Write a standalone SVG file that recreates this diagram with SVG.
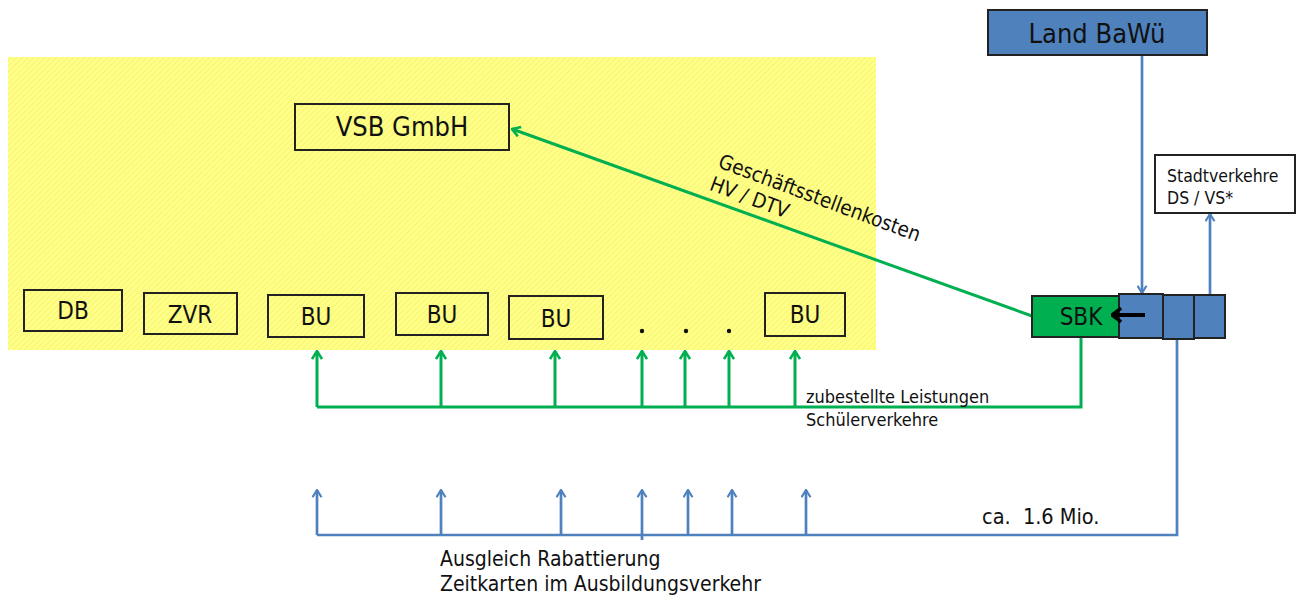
<svg xmlns="http://www.w3.org/2000/svg" width="1304" height="601" viewBox="0 0 1304 601">
<style>
text{font-family:"DejaVu Sans Condensed","DejaVu Sans",sans-serif;font-stretch:condensed;fill:#111}
.box{fill:none;stroke:#222;stroke-width:2}
.c{text-anchor:middle}
.g{fill:none;stroke:#00B050;stroke-width:3}
.b{fill:none;stroke:#4F81BD;stroke-width:2.7}
.blue{fill:#4F81BD;stroke:#222;stroke-width:2}
</style>
<defs>
<pattern id="hatch" width="4" height="4" patternUnits="userSpaceOnUse" patternTransform="rotate(45)">
<rect width="4" height="4" fill="#FFFF8C"/>
<rect width="1.2" height="4" fill="#F8F66E"/>
</pattern>
<marker id="ag" viewBox="0 0 10 12" refX="9" refY="6" markerWidth="10" markerHeight="12" markerUnits="userSpaceOnUse" orient="auto">
<path d="M1,1 L9,6 L1,11" fill="none" stroke="#00B050" stroke-width="2.6"/>
</marker>
<marker id="ab" viewBox="0 0 10 12" refX="9" refY="6" markerWidth="9" markerHeight="11" markerUnits="userSpaceOnUse" orient="auto">
<path d="M1,1 L9,6 L1,11" fill="none" stroke="#4F81BD" stroke-width="2.4"/>
</marker>
<marker id="ak" viewBox="0 0 10 14" refX="9" refY="7" markerWidth="12" markerHeight="16" markerUnits="userSpaceOnUse" orient="auto">
<path d="M1,1 L9,7 L1,13" fill="none" stroke="#000" stroke-width="3"/>
</marker>
</defs>
<rect id="area" x="8" y="57" width="868" height="293" fill="url(#hatch)"/>

<g id="connectors">
<path class="g" d="M1032,316 L512,129" marker-end="url(#ag)"/>
<path class="g" d="M1081,337 L1081,407 L317,407"/>
<path class="g" d="M317,407 V351" marker-end="url(#ag)"/>
<path class="g" d="M441,407 V351" marker-end="url(#ag)"/>
<path class="g" d="M555,407 V351" marker-end="url(#ag)"/>
<path class="g" d="M642,407 V351" marker-end="url(#ag)"/>
<path class="g" d="M685,407 V351" marker-end="url(#ag)"/>
<path class="g" d="M729,407 V351" marker-end="url(#ag)"/>
<path class="g" d="M795,407 V351" marker-end="url(#ag)"/>
<path class="b" d="M1177,339 L1177,535 L317,535"/>
<path class="b" d="M317,535 V490" marker-end="url(#ab)"/>
<path class="b" d="M441,535 V490" marker-end="url(#ab)"/>
<path class="b" d="M561,535 V490" marker-end="url(#ab)"/>
<path class="b" d="M642,540 V490" marker-end="url(#ab)"/>
<path class="b" d="M688,535 V490" marker-end="url(#ab)"/>
<path class="b" d="M732,535 V490" marker-end="url(#ab)"/>
<path class="b" d="M806,535 V490" marker-end="url(#ab)"/>
<path class="b" d="M1142,55 V293" marker-end="url(#ab)"/>
<path class="b" d="M1210,295 V214" marker-end="url(#ab)"/>
</g>

<g id="vsb"><rect class="box" x="295" y="104" width="214" height="46"/><text class="c" x="402" y="136" font-size="27">VSB GmbH</text></g>
<g id="db"><rect class="box" x="24" y="290" width="98" height="41"/><text class="c" x="73" y="319" font-size="24">DB</text></g>
<g id="zvr"><rect class="box" x="144" y="293" width="93" height="41"/><text class="c" x="190" y="323" font-size="24">ZVR</text></g>
<g id="bu1"><rect class="box" x="268" y="295" width="96" height="42"/><text class="c" x="316" y="325" font-size="24">BU</text></g>
<g id="bu2"><rect class="box" x="396" y="293" width="92" height="42"/><text class="c" x="442" y="323" font-size="24">BU</text></g>
<g id="bu3"><rect class="box" x="509" y="296" width="94" height="43"/><text class="c" x="556" y="327" font-size="24">BU</text></g>
<g id="dots"><circle cx="642" cy="331" r="2.2" fill="#111"/><circle cx="686" cy="331" r="2.2" fill="#111"/><circle cx="729" cy="331" r="2.2" fill="#111"/></g>
<g id="bu4"><rect class="box" x="765" y="293" width="80" height="43"/><text class="c" x="805" y="323" font-size="24">BU</text></g>

<g id="land"><rect class="blue" x="988" y="10" width="219" height="45"/><text class="c" x="1097" y="43" font-size="27">Land BaWü</text></g>
<g id="stadt"><rect class="box" x="1155" y="155" width="140" height="58" style="fill:#fff"/><text x="1167" y="182" font-size="17.5">Stadtverkehre</text><text x="1167" y="204" font-size="17.5">DS / VS*</text></g>
<g id="sbk">
<rect x="1032" y="296" width="88" height="41" fill="#00B050" stroke="#222" stroke-width="2"/>
<rect class="blue" x="1119" y="294" width="44" height="44"/>
<rect class="blue" x="1163" y="295" width="31" height="44"/>
<rect class="blue" x="1194" y="295" width="31" height="43"/>
<text class="c" x="1081" y="325" font-size="24">SBK</text>
<path d="M1145,315 L1112,315" stroke="#000" stroke-width="4" fill="none" marker-end="url(#ak)"/>
</g>

<g id="labels">
<g transform="translate(717,167) rotate(20.5)"><text x="0" y="0" font-size="20.5">Geschäftsstellenkosten</text><text x="0" y="24" font-size="20.5">HV / DTV</text></g>
<text x="806" y="403" font-size="18">zubestellte Leistungen</text>
<text x="806" y="426" font-size="18">Schülerverkehre</text>
<text x="982" y="524" font-size="21.5" xml:space="preserve">ca.  1.6 Mio.</text>
<text x="440" y="566" font-size="21">Ausgleich Rabattierung</text>
<text x="440" y="591" font-size="21">Zeitkarten im Ausbildungsverkehr</text>
</g>
</svg>
